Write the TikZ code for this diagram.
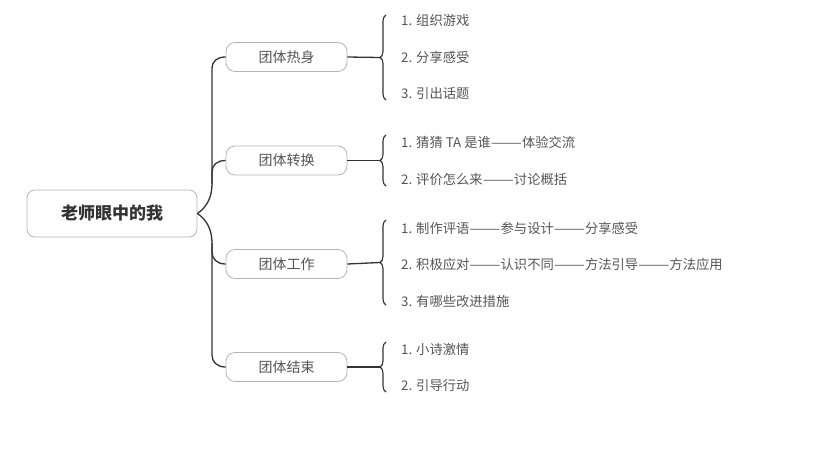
\documentclass[tikz,border=0pt]{standalone}
\usepackage{fontspec}
\setmainfont{Noto Sans CJK SC}
\usepackage{xcolor}
\usetikzlibrary{decorations.pathreplacing}

\definecolor{inkdark}{HTML}{333333}
\definecolor{inkgray}{HTML}{555555}
\definecolor{boxline}{HTML}{B4B4B4}

% long dash pair as printed in the reference
\newcommand{\longdash}{\scalebox{1.4}[1]{——}}

\begin{document}
\begin{tikzpicture}[x=1pt, y=-1pt]

        % 1. Canvas (pixel-like units, y pointing down)
        \useasboundingbox (0,0) rectangle (830,450);

        \tikzset{
            rootbox/.style={draw=boxline, line width=0.8pt, rounded corners=8pt, fill=white,
                minimum width=170pt, minimum height=47pt, inner sep=0pt,
                text=inkdark, font=\fontsize{17}{19}\selectfont\bfseries},
            topicbox/.style={draw=boxline, line width=0.8pt, rounded corners=9pt, fill=white,
                minimum width=121pt, minimum height=29pt, inner sep=0pt,
                text=inkgray, font=\fontsize{14}{16}\selectfont},
            leaf/.style={anchor=west, inner sep=0pt, text=inkgray, font=\fontsize{13.3}{15}\selectfont},
            link/.style={draw=inkdark, line width=1.3pt},
            leafbrace/.style={link, line width=1.1pt, decorate, decoration={brace, amplitude=6pt}}
        }

        % 2. Central topic and the four main topics
        \node[rootbox] (root) at (112,213.5) {老师眼中的我};

        \node[topicbox] (warm)  at (286.5,57)    {团体热身};
        \node[topicbox] (shift) at (286.5,160.5) {团体转换};
        \node[topicbox] (work)  at (286.5,264)   {团体工作};
        \node[topicbox] (close) at (286.5,367)   {团体结束};

        % 3. Curved links from the central topic
        \coordinate (up) at (212,184);
        \coordinate (dn) at (212,243);
        \draw[link] (root.east) .. controls (207,207) and (212,197) .. (up);
        \draw[link] (root.east) .. controls (207,220) and (212,230) .. (dn);
        \draw[link] (up) -- (212,69) .. controls (212,61) and (217,57) .. (warm.west);
        \draw[link] (up) -- (212,172) .. controls (212,165) and (217,160.5) .. (shift.west);
        \draw[link] (dn) -- (212,252) .. controls (212,259) and (217,264) .. (work.west);
        \draw[link] (dn) -- (212,355) .. controls (212,362) and (217,367) .. (close.west);

        % 4. Braces on the right of each main topic
        \coordinate (warmTip)  at (380,57.5);
        \coordinate (shiftTip) at (380,160.5);
        \coordinate (workTip)  at (380,262.5);
        \coordinate (closeTip) at (380,367);

        \draw[link] (warm.east) -- (warmTip);
        \draw[link] (shift.east) -- (shiftTip);
        \draw[link] (work.east) -- (workTip);
        \draw[link] (close.east) -- (closeTip);

        \draw[leafbrace] (386,100) -- (386,15);
        \draw[leafbrace] (386,186) -- (386,135);
        \draw[leafbrace] (386,305) -- (386,220);
        \draw[leafbrace] (386,392) -- (386,342);

        % 5. Sub-topics
        % Warm-up
        \node[leaf] (w1) at (401,20.5) {1. 组织游戏};
        \node[leaf] (w2) at (401,57)   {2. 分享感受};
        \node[leaf] (w3) at (401,93.5) {3. 引出话题};
        % Transition
        \node[leaf] (s1) at (401,142.5) {1. 猜猜 TA 是谁\longdash 体验交流};
        \node[leaf] (s2) at (401,179)   {2. 评价怎么来\longdash 讨论概括};
        % Working
        \node[leaf] (k1) at (401,228) {1. 制作评语\longdash 参与设计\longdash 分享感受};
        \node[leaf] (k2) at (401,264.5) {2. 积极应对\longdash 认识不同\longdash 方法引导\longdash 方法应用};
        \node[leaf] (k3) at (401,301) {3. 有哪些改进措施};
        % Closing
        \node[leaf] (c1) at (401,349) {1. 小诗激情};
        \node[leaf] (c2) at (401,385.5) {2. 引导行动};

    \end{tikzpicture}
\end{document}
